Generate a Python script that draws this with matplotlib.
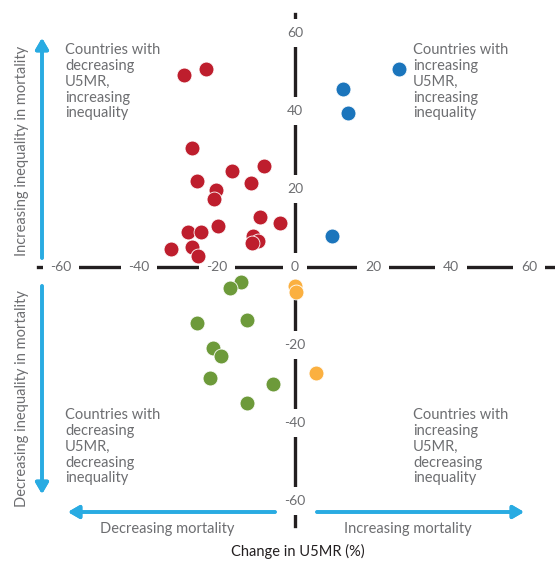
import matplotlib.pyplot as plt
import numpy as np

plt.rcParams['font.family'] = ['Lato', 'DejaVu Sans']

# change in U5MR (%) and change in inequality
red_x = [-28.5, -22.8, -26.5, -16.2, -8.0, -25.1, -20.3, -20.8, -11.3, -9.0,
         -3.8, -27.4, -24.2, -19.7, -10.8, -9.4, -11.1, -31.8, -26.5, -24.8]
red_y = [49.2, 50.8, 30.5, 24.5, 25.8, 22.1, 19.7, 17.4, 21.5, 12.9,
         11.2, 9.1, 9.1, 10.4, 8.0, 6.7, 6.1, 4.6, 5.1, 2.9]
blue_x = [9.5, 26.7, 12.3, 13.6]
blue_y = [7.9, 50.8, 45.6, 39.5]
green_x = [-13.9, -16.6, -25.1, -12.2, -20.9, -18.9, -21.9, -5.7, -12.4]
green_y = [-3.8, -5.4, -14.4, -13.7, -20.7, -22.9, -28.5, -29.9, -34.9]
orange_x = [-0.1, 0.2, 5.3]
orange_y = [-4.9, -6.3, -27.1]

x_ticks = [-60, -40, -20, 0, 20, 40, 60]
y_ticks = [60, 40, 20, -20, -40, -60]

W, H = 555, 562
fig = plt.figure(figsize=(W / 100, H / 100), dpi=100)
ax = fig.add_axes([0, 0, 1, 1])

# zero of both axes sits at pixel (295, 267), 3.9 px per unit
sc = 3.9
ax.set_xlim(-295 / sc, (W - 295) / sc)
ax.set_ylim(-(H - 267) / sc, 267 / sc)

ink = '#231f20'
grey = '#6d6e71'
cyan = '#29abe2'

for s in ['top', 'right']:
    ax.spines[s].set_visible(False)
ax.spines['left'].set_position(('data', 0))
ax.spines['bottom'].set_position(('data', 0))
ax.spines['left'].set_bounds(-66.5, 65)
ax.spines['bottom'].set_bounds(-66, 70)
for s in ['left', 'bottom']:
    ax.spines[s].set_linewidth(2.4)
    ax.spines[s].set_color(ink)
    ax.spines[s].set_zorder(2)
ax.set_xticks([])
ax.set_yticks([])

box = dict(facecolor='white', edgecolor='none', pad=5.5)
for v in x_ticks:
    ax.text(v, 0, str(v), ha='center', va='center', fontsize=10, color=grey,
            bbox=box, zorder=3)
for v in y_ticks:
    ax.text(0, v, str(v), ha='center', va='center', fontsize=10, color=grey,
            bbox=box, zorder=3)

kw = dict(s=115, edgecolors='white', linewidths=0.6, zorder=5)
ax.scatter(red_x, red_y, color='#be1e2d', **kw)
ax.scatter(blue_x, blue_y, color='#1b75bc', **kw)
ax.scatter(green_x, green_y, color='#6d9a3a', **kw)
ax.scatter(orange_x, orange_y, color='#fbb040', **kw)


def fx(px):
    return px / W


def fy(py):
    return 1 - py / H


# quadrant notes
tk = dict(fontsize=10.5, color=grey, va='top', ha='left', linespacing=1.17,
          transform=fig.transFigure)
fig.text(fx(65), fy(43), 'Countries with\ndecreasing\nU5MR,\nincreasing\ninequality', **tk)
fig.text(fx(413), fy(43), 'Countries with\nincreasing\nU5MR,\nincreasing\ninequality', **tk)
fig.text(fx(65), fy(408), 'Countries with\ndecreasing\nU5MR,\ndecreasing\ninequality', **tk)
fig.text(fx(413), fy(408), 'Countries with\nincreasing\nU5MR,\ndecreasing\ninequality', **tk)

# direction arrows
ap = dict(arrowstyle='-|>,head_width=0.38,head_length=0.65', color=cyan, lw=2.6,
          shrinkA=0, shrinkB=0)
for (x0, y0), (x1, y1) in [((42, 258), (42, 38)), ((42, 286), (42, 494)),
                           ((275, 512), (68, 512)), ((317, 512), (524, 512))]:
    fig.add_artist(plt.annotate('', xy=(fx(x1), fy(y1)), xytext=(fx(x0), fy(y0)),
                                xycoords='figure fraction', textcoords='figure fraction',
                                arrowprops=ap))

fig.text(fx(22), fy(151), 'Increasing inequality in mortality', rotation=90,
         ha='center', va='center', fontsize=10.5, color=grey)
fig.text(fx(22), fy(399), 'Decreasing inequality in mortality', rotation=90,
         ha='center', va='center', fontsize=10.5, color=grey)
fig.text(fx(167), fy(529), 'Decreasing mortality', ha='center', va='center',
         fontsize=10.5, color=grey)
fig.text(fx(408), fy(529), 'Increasing mortality', ha='center', va='center',
         fontsize=10.5, color=grey)
fig.text(fx(298), fy(551), 'Change in U5MR (%)', ha='center', va='center',
         fontsize=10.5, color=ink)

fig.savefig('out.png', dpi=100)
